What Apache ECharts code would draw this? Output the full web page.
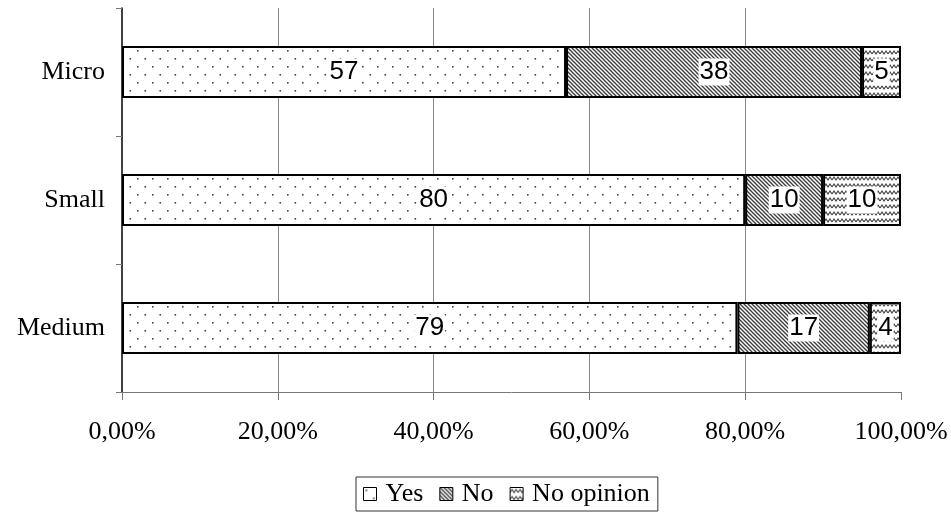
<!DOCTYPE html>
<html>
<head>
<meta charset="utf-8">
<script src="https://cdn.jsdelivr.net/npm/echarts@6/dist/echarts.min.js"></script>
<style>
  html, body { margin: 0; padding: 0; background: #fff; }
  #chart { width: 951px; height: 519px; }
</style>
</head>
<body>
<div id="chart"></div>
<script>
// Share of answers by company size (percent of respondents)
const categories = ['Micro', 'Small', 'Medium'];
const seriesNames = ['Yes', 'No', 'No opinion'];
const yesValues = [57, 80, 79];
const noValues = [38, 10, 17];
const noOpinionValues = [5, 10, 4];
const xTicks = [0, 20, 40, 60, 80, 100];

// Monochrome fill patterns drawn on small tiles
function makeTile(w, h, draw) {
  const c = document.createElement('canvas');
  c.width = w; c.height = h;
  const ctx = c.getContext('2d');
  ctx.fillStyle = '#fff';
  ctx.fillRect(0, 0, w, h);
  draw(ctx, w, h);
  return { image: c, repeat: 'repeat' };
}

const dotFill = makeTile(15, 16, (ctx) => {
  ctx.fillStyle = '#444';
  ctx.fillRect(2, 2, 1.6, 1.6);
  ctx.fillRect(9.5, 10, 1.6, 1.6);
});

const stripeFill = makeTile(4, 4, (ctx, w, h) => {
  ctx.strokeStyle = '#3a3a3a';
  ctx.lineWidth = 1.3;
  for (let k = -1; k <= 1; k++) {
    ctx.beginPath();
    ctx.moveTo(k * w - 1, -1);
    ctx.lineTo(k * w + w + 1, h + 1);
    ctx.stroke();
  }
});

const waveFill = makeTile(8, 7, (ctx) => {
  ctx.strokeStyle = '#444';
  ctx.lineWidth = 1.2;
  ctx.beginPath();
  ctx.moveTo(0, 5);
  ctx.lineTo(2, 2);
  ctx.lineTo(4, 5);
  ctx.lineTo(6, 2);
  ctx.lineTo(8, 5);
  ctx.stroke();
});

const fills = [dotFill, stripeFill, waveFill];
const values = [yesValues, noValues, noOpinionValues];

const chart = echarts.init(document.getElementById('chart'), null, { renderer: 'canvas' });

const fmtPct = v => v.toFixed(2).replace('.', ',') + '%';

chart.setOption({
  animation: false,
  backgroundColor: '#fff',
  grid: { left: 122, right: 50, top: 8, bottom: 127, containLabel: false },
  xAxis: {
    type: 'value',
    min: xTicks[0],
    max: xTicks[xTicks.length - 1],
    interval: xTicks[1] - xTicks[0],
    axisLine: { show: true, lineStyle: { color: '#777', width: 1 } },
    axisTick: { show: true, length: 8, lineStyle: { color: '#777' } },
    axisLabel: {
      margin: 27,
      color: '#000',
      fontFamily: 'Liberation Serif',
      fontSize: 26,
      formatter: fmtPct
    },
    splitLine: {
      show: true,
      showMinLine: false,
      showMaxLine: false,
      lineStyle: { color: '#888', width: 1 }
    }
  },
  yAxis: {
    type: 'category',
    data: categories,
    inverse: true,
    axisLine: { show: true, lineStyle: { color: '#000', width: 1.5 } },
    axisTick: { show: true, length: 6, lineStyle: { color: '#777' } },
    axisLabel: {
      margin: 17,
      color: '#000',
      fontFamily: 'Liberation Serif',
      fontSize: 26
    },
    splitLine: { show: false }
  },
  legend: {
    data: seriesNames,
    left: 356,
    top: 477,
    orient: 'horizontal',
    itemWidth: 13,
    itemHeight: 13,
    itemGap: 16,
    padding: [4, 8, 4, 7],
    borderColor: '#333',
    borderWidth: 1,
    icon: 'rect',
    itemStyle: { borderColor: '#000', borderWidth: 1 },
    textStyle: { color: '#000', fontFamily: 'Liberation Serif', fontSize: 26, padding: [0, 0, 0, 4] }
  },
  series: seriesNames.map((name, i) => ({
    name: name,
    type: 'bar',
    stack: 'total',
    barWidth: 52,
    data: values[i],
    itemStyle: { color: fills[i], borderColor: '#000', borderWidth: 2 },
    label: {
      show: true,
      position: 'inside',
      formatter: '{c}',
      color: '#000',
      backgroundColor: '#fff',
      padding: [1, 1, 0, 1],
      fontFamily: 'Liberation Sans',
      fontSize: 26
    }
  }))
});
</script>
</body>
</html>
